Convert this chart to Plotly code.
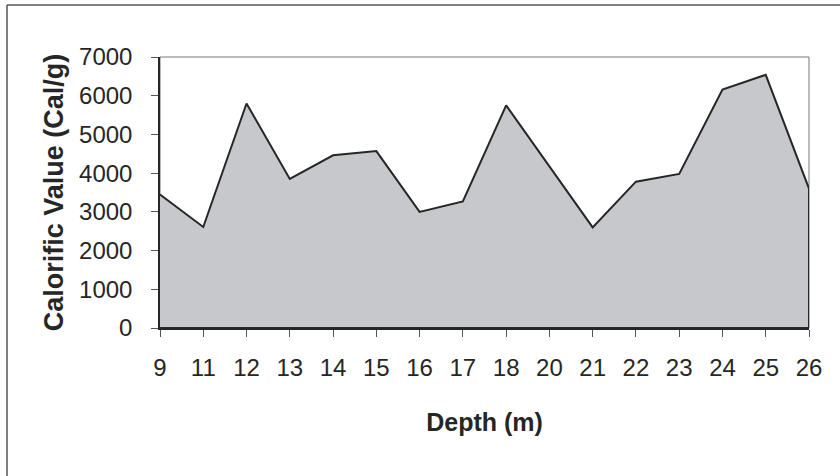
import plotly.graph_objects as go

# Calorific value of samples by depth
depth_labels = ["9", "11", "12", "13", "14", "15", "16", "17", "18",
                "20", "21", "22", "23", "24", "25", "26"]
calorific_values = [3450, 2610, 5800, 3850, 4460, 4570, 3000, 3270, 5750,
                    4170, 2600, 3780, 3980, 6160, 6540, 3600]
y_ticks = [0, 1000, 2000, 3000, 4000, 5000, 6000, 7000]

INK = "#262626"
FONT = "Liberation Sans, Arial, sans-serif"

# closed outline so the area has a dark border down to the axis on the right
xs = depth_labels + [depth_labels[-1], depth_labels[0]]
ys = calorific_values + [0, 0]

fig = go.Figure()
fig.add_trace(go.Scatter(
    x=xs, y=ys, mode="lines", fill="toself",
    fillcolor="rgb(199,200,204)",
    line=dict(color=INK, width=2),
    hoverinfo="skip", showlegend=False,
))

fig.update_layout(
    width=840, height=476, autosize=False,
    margin=dict(l=160, r=31, t=57, b=148),
    paper_bgcolor="white", plot_bgcolor="white",
    font=dict(family=FONT, color=INK),
    xaxis=dict(
        type="category", categoryorder="array", categoryarray=depth_labels,
        range=[0, len(depth_labels) - 1],
        showgrid=False, zeroline=False,
        showline=True, linecolor=INK, linewidth=1.5,
        ticks="outside", ticklen=7, tickwidth=1, tickcolor="#555",
        tickfont=dict(size=24, family=FONT, color=INK),
        ticklabelstandoff=10,
        title=dict(text="<b>Depth (m)</b>", standoff=34,
                   font=dict(size=25, family=FONT, color=INK)),
        automargin=False,
    ),
    yaxis=dict(
        range=[0, 7000], tickvals=y_ticks,
        showgrid=False, zeroline=False,
        showline=True, linecolor=INK, linewidth=1.5,
        ticks="outside", ticklen=7, tickwidth=1, tickcolor="#555",
        tickfont=dict(size=24, family=FONT, color=INK),
        ticklabelstandoff=14,
        title=dict(text="<b>Calorific Value (Cal/g)</b>", standoff=8,
                   font=dict(size=27, family=FONT, color=INK)),
        automargin=False,
    ),
    shapes=[
        # thin plot-area border
        dict(type="rect", xref="paper", yref="paper", x0=0, y0=0, x1=1, y1=1,
             line=dict(color="#777", width=1), layer="below"),
        # outer chart frame (top and left edges visible)
        dict(type="line", xref="paper", yref="paper",
             x0=-153 / 649, x1=680 / 649, y0=(271 + 52) / 271, y1=(271 + 52) / 271,
             line=dict(color="#555", width=1.5)),
        dict(type="line", xref="paper", yref="paper",
             x0=-153 / 649, x1=-153 / 649, y0=(271 + 52) / 271, y1=-160 / 271,
             line=dict(color="#555", width=1.5)),
    ],
)

fig.write_html("out.html")
